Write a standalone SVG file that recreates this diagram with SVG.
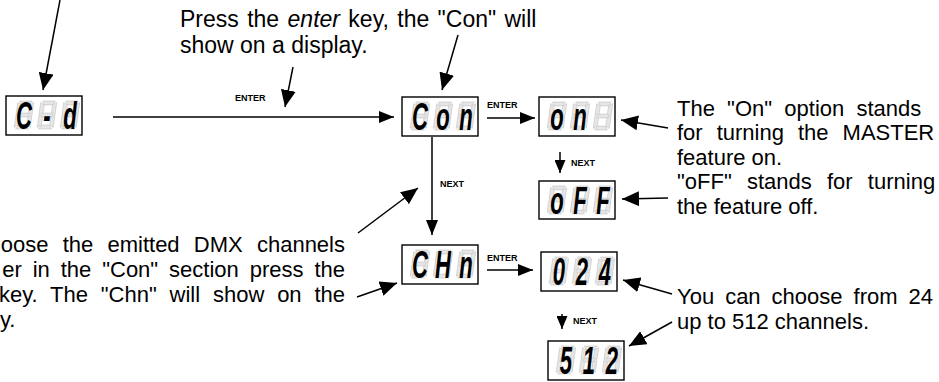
<svg xmlns="http://www.w3.org/2000/svg" xmlns:xlink="http://www.w3.org/1999/xlink" width="939" height="382" viewBox="0 0 939 382">
<style>
.box{fill:#fff;stroke:#000;stroke-width:1.4}
.seg{font-family:"Liberation Sans",Arial,sans-serif;font-weight:bold;font-style:italic;font-size:38px;fill:#000;text-anchor:middle}
.t{font-family:"Liberation Sans",Arial,sans-serif;fill:#000}
.lbl{font-family:"Liberation Sans",Arial,sans-serif;font-weight:bold;font-size:9px;fill:#000}
.ln{fill:none;stroke:#000;stroke-width:1.5}
.gh{fill:#e6e6e6;stroke:#bdbdbd;stroke-width:0.5}
</style>
<defs>
<marker id="big" markerUnits="userSpaceOnUse" markerWidth="17" markerHeight="15" refX="17" refY="7.5" orient="auto"><path d="M0,0 L17,7.5 L0,15 z" fill="#000" stroke="none"/></marker>
<marker id="mid" markerUnits="userSpaceOnUse" markerWidth="15" markerHeight="12" refX="15" refY="6" orient="auto"><path d="M0,0 L15,6 L0,12 z" fill="#000" stroke="none"/></marker>
<marker id="small" markerUnits="userSpaceOnUse" markerWidth="13" markerHeight="11" refX="13" refY="5.5" orient="auto"><path d="M0,0 L13,5.5 L0,11 z" fill="#000" stroke="none"/></marker>
<g id="g8" class="gh" transform="translate(0,28) skewX(-8) translate(0,-28) scale(1.0667,1.0769)">
<polygon points="1.5,0 13.5,0 11.3,3.6 3.7,3.6"/>
<polygon points="0,1.5 3.6,3.7 3.6,11 0,12.6"/>
<polygon points="15,1.5 15,12.6 11.4,11 11.4,3.7"/>
<polygon points="1.5,13 3.5,11.2 11.5,11.2 13.5,13 11.5,14.8 3.5,14.8"/>
<polygon points="0,13.4 3.6,15 3.6,22.3 0,24.5"/>
<polygon points="15,13.4 15,24.5 11.4,22.3 11.4,15"/>
<polygon points="3.7,22.4 11.3,22.4 13.5,26 1.5,26"/>
</g>
<g id="ghost3">
<use xlink:href="#g8" x="8" y="5"/><use xlink:href="#g8" x="31" y="5"/><use xlink:href="#g8" x="54" y="5"/>
</g>
</defs>

<g id="disp-cd" transform="translate(6,96)">
<rect class="box" width="76" height="39"/><use xlink:href="#ghost3"/>
<text class="seg" transform="scale(0.58,1)" x="31 70.7 110.3" y="33">C-d</text>
</g>
<g id="disp-con" transform="translate(402,97)">
<rect class="box" width="76" height="39"/><use xlink:href="#ghost3"/>
<text class="seg" transform="scale(0.58,1)" x="31 70.7 110.3" y="33">Con</text>
</g>
<g id="disp-on" transform="translate(539,97)">
<rect class="box" width="76" height="39"/><use xlink:href="#ghost3"/>
<text class="seg" transform="scale(0.58,1)" x="31 70.7" y="33">on</text>
</g>
<g id="disp-off" transform="translate(539,181)">
<rect class="box" width="76" height="38"/><use xlink:href="#ghost3"/>
<text class="seg" transform="scale(0.58,1)" x="31 70.7 110.3" y="33">oFF</text>
</g>
<g id="disp-chn" transform="translate(402,245)">
<rect class="box" width="76" height="39"/><use xlink:href="#ghost3"/>
<text class="seg" transform="scale(0.58,1)" x="31 70.7 110.3" y="33">CHn</text>
</g>
<g id="disp-024" transform="translate(541,252)">
<rect class="box" width="76" height="39"/><use xlink:href="#ghost3"/>
<text class="seg" transform="scale(0.58,1)" x="31 70.7 110.3" y="33">024</text>
</g>
<g id="disp-512" transform="translate(548,341)">
<rect class="box" width="76" height="39"/><use xlink:href="#ghost3"/>
<text class="seg" transform="scale(0.58,1)" x="31 70.7 110.3" y="33">512</text>
</g>

<g id="note-top" class="t" font-size="23">
<text x="180" y="27" word-spacing="2">Press the <tspan font-style="italic">enter</tspan> key, the "Con" will</text>
<text x="180" y="53">show on a display.</text>
</g>
<g id="note-on" class="t" font-size="22">
<text x="677" y="116" word-spacing="6.1">The "On" option stands</text>
<text x="677" y="140" word-spacing="7.9">for turning the MASTER</text>
<text x="677" y="165">feature on.</text>
<text x="677" y="189" word-spacing="9.1">"oFF" stands for turning</text>
<text x="677" y="214">the feature off.</text>
</g>
<g id="note-chn" class="t" font-size="22">
<text x="345" y="252" text-anchor="end" word-spacing="8.1">oose the emitted DMX channels</text>
<text x="345" y="277" text-anchor="end" word-spacing="4.8">er in the "Con" section press the</text>
<text x="345" y="302" text-anchor="end" word-spacing="6.7">key. The "Chn" will show on the</text>
<text x="0" y="327">y.</text>
</g>
<g id="note-range" class="t" font-size="22">
<text x="677" y="304" word-spacing="4.9">You can choose from 24</text>
<text x="677" y="329">up to 512 channels.</text>
</g>

<g id="connectors">
<g class="ln">
<line x1="60" y1="0" x2="43" y2="90" marker-end="url(#big)"/>
<line x1="293" y1="67" x2="285" y2="107" marker-end="url(#big)"/>
<line x1="113" y1="117" x2="394" y2="117" marker-end="url(#mid)"/>
<line x1="458" y1="35" x2="442" y2="90" marker-end="url(#big)"/>
<line x1="487" y1="118" x2="535" y2="118" marker-end="url(#mid)"/>
<line x1="668" y1="128" x2="621" y2="120" marker-end="url(#big)"/>
<line x1="560" y1="152" x2="560" y2="173" marker-end="url(#small)"/>
<line x1="668" y1="198" x2="622" y2="199" marker-end="url(#big)"/>
<line x1="432" y1="137" x2="432" y2="235" marker-end="url(#mid)"/>
<line x1="358" y1="233" x2="418" y2="188" marker-end="url(#big)"/>
<line x1="357" y1="297" x2="397" y2="283" marker-end="url(#big)"/>
<line x1="487" y1="270" x2="533" y2="270" marker-end="url(#mid)"/>
<line x1="672" y1="294" x2="623" y2="280" marker-end="url(#big)"/>
<line x1="562" y1="314" x2="562" y2="329" marker-end="url(#small)"/>
<line x1="672" y1="322" x2="629" y2="346" marker-end="url(#big)"/>
</g>
<g class="lbl">
<text x="235" y="101">ENTER</text>
<text x="487" y="108">ENTER</text>
<text x="571" y="166">NEXT</text>
<text x="440" y="187">NEXT</text>
<text x="487" y="261">ENTER</text>
<text x="573" y="324">NEXT</text>
</g>
</g>
</svg>
